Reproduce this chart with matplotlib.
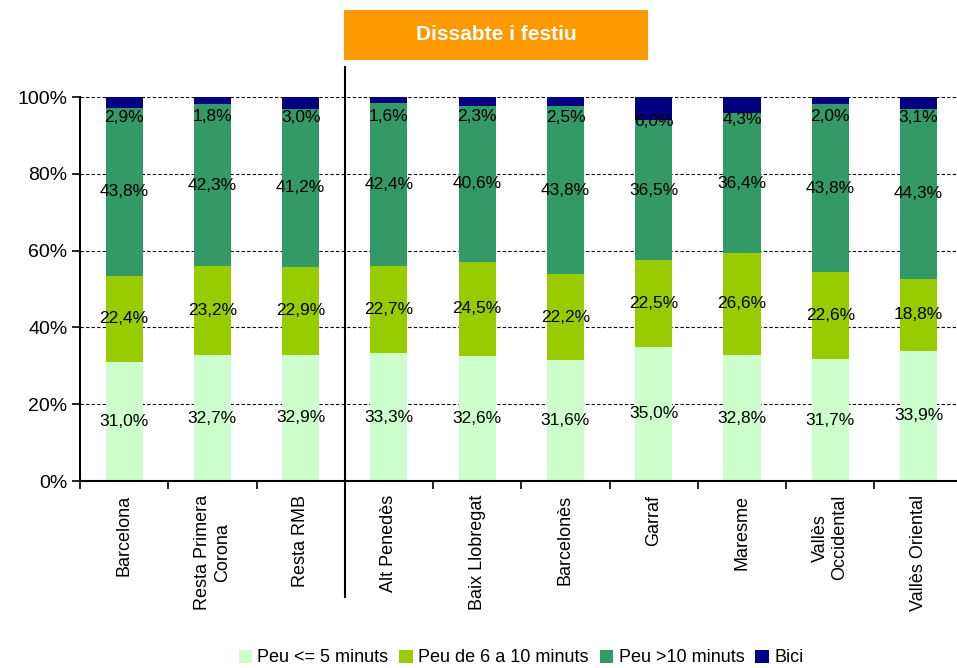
import matplotlib
matplotlib.use("Agg")
import matplotlib.pyplot as plt
from matplotlib.patches import Rectangle, Patch
from matplotlib.ticker import FixedLocator, NullFormatter

plt.rcParams['font.family'] = ['Liberation Sans', 'DejaVu Sans']

categories = ["Barcelona", "Resta Primera\nCorona", "Resta RMB", "Alt Penedès",
              "Baix Llobregat", "Barcelonès", "Garraf", "Maresme",
              "Vallès\nOccidental", "Vallès Oriental"]
peu_5 = [31.0, 32.7, 32.9, 33.3, 32.6, 31.6, 35.0, 32.8, 31.7, 33.9]
peu_6_10 = [22.4, 23.2, 22.9, 22.7, 24.5, 22.2, 22.5, 26.6, 22.6, 18.8]
peu_10 = [43.8, 42.3, 41.2, 42.4, 40.6, 43.8, 36.5, 36.4, 43.8, 44.3]
bici = [2.9, 1.8, 3.0, 1.6, 2.3, 2.5, 6.0, 4.3, 2.0, 3.1]
series_names = ["Peu <= 5 minuts", "Peu de 6 a 10 minuts", "Peu >10 minuts", "Bici"]
colors = ["#CCFFCC", "#99CC00", "#339966", "#000080"]
title = "Dissabte i festiu"
yticks = [0, 20, 40, 60, 80, 100]

W, H = 957, 668
fig = plt.figure(figsize=(W / 100, H / 100), dpi=100)
ax = fig.add_axes([80 / W, (H - 481) / H, 880 / W, 384 / H])

x = list(range(len(categories)))
fmt = lambda v: f"{v:.1f}".replace('.', ',') + '%'
bottom = [0.0] * len(x)
series = [peu_5, peu_6_10, peu_10, bici]
for k, (vals, col) in enumerate(zip(series, colors)):
    ax.bar(x, vals, bottom=bottom, width=0.42, color=col, zorder=2)
    for i, v in enumerate(vals):
        if k < 3:
            yy = bottom[i] + v / 2
        else:
            yy = 100 - 4.5 - 0.3 * v
        ax.text(i, yy, fmt(v), ha='center', va='center', fontsize=12.5, color='black', zorder=4)
    bottom = [b + v for b, v in zip(bottom, vals)]

ax.set_xlim(-0.5, 9.47)
ax.set_ylim(0, 100)
ax.set_yticks(yticks)
ax.set_yticklabels([f"{t}%" for t in yticks], fontsize=14)
ax.yaxis.grid(True, linestyle=(0, (3, 2)), color='black', linewidth=0.8, zorder=1)
ax.set_axisbelow(True)

ax.xaxis.set_major_locator(FixedLocator([i + 0.5 for i in range(-1, 10)]))
ax.xaxis.set_major_formatter(NullFormatter())
ax.xaxis.set_minor_locator(FixedLocator(x))
ax.set_xticklabels(categories, minor=True, rotation=90, fontsize=13, ha='center', va='top',
                   multialignment='center')
ax.tick_params(axis='x', which='minor', length=0, pad=10)
ax.tick_params(axis='x', which='major', length=6, width=1.2, direction='out')
ax.tick_params(axis='y', length=6, width=1.2, direction='out', pad=3)

for s in ['top', 'right']:
    ax.spines[s].set_visible(False)
for s in ['left', 'bottom']:
    ax.spines[s].set_linewidth(1.5)

ax.plot([2.5, 2.5], [-30.2, 107.8], color='black', linewidth=1.5, clip_on=False, zorder=5)

fig.patches.append(Rectangle((344 / W, (H - 60) / H), 304 / W, 50 / H,
                             transform=fig.transFigure, facecolor='#FF9900', edgecolor='none'))
fig.text(496 / W, (H - 35) / H, title, ha='center', va='center', color='white',
         fontsize=15, fontweight='bold')

handles = [Patch(facecolor=c, edgecolor='none') for c in colors]
fig.legend(handles, series_names, loc='center', bbox_to_anchor=(521 / W, (H - 658) / H),
           ncol=4, frameon=False, fontsize=13, handlelength=0.75, handleheight=0.75,
           handletextpad=0.3, columnspacing=0.6)

fig.savefig("out.png", dpi=100)
